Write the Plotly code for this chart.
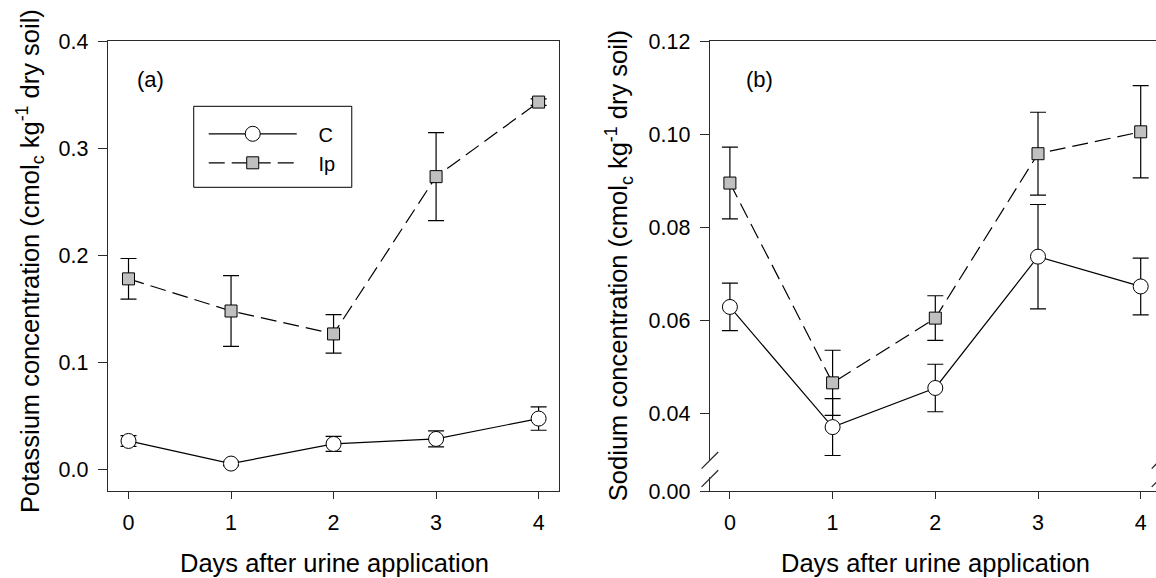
import plotly.graph_objects as go
from plotly.subplots import make_subplots

# ---------------- data ----------------
days = [0, 1, 2, 3, 4]
day_ticks = [0, 1, 2, 3, 4]

k_c = [0.0267, 0.0056, 0.0239, 0.0286, 0.0476]
k_c_err = [0.005, 0.002, 0.007, 0.0075, 0.0109]
k_ip = [0.178, 0.148, 0.1266, 0.2734, 0.343]
k_ip_err = [0.019, 0.033, 0.018, 0.041, 0.003]

na_c = [0.0629, 0.0371, 0.0455, 0.0737, 0.0673]
na_c_err = [0.0051, 0.0061, 0.0051, 0.0112, 0.0061]
na_ip = [0.0895, 0.0466, 0.0605, 0.0958, 0.1005]
na_ip_err = [0.0077, 0.0070, 0.0048, 0.0089, 0.0099]

k_ticks = [0.0, 0.1, 0.2, 0.3, 0.4]
k_ticktext = ["0.0", "0.1", "0.2", "0.3", "0.4"]
na_break = 0.02338          # axis position that carries the "0.00" label (broken axis)
na_ticks = [na_break, 0.04, 0.06, 0.08, 0.10, 0.12]
na_ticktext = ["0.00", "0.04", "0.06", "0.08", "0.10", "0.12"]

series_names = ["C", "Ip"]

# ---------------- style ----------------
FONT = "Liberation Sans, Arial, sans-serif"
AX = "#2a2a2a"
GRAY = "#c0c0c0"
W, H = 1156, 578
ML, MR, MT, MB = 108.3, 0, 40.7, 87.3
PW = W - ML - MR
PH = H - MT - MB
NB = "\u00a0"

def px_x(p):
    return (p - ML) / PW

def px_y(p):
    return (H - MB - p) / PH

fig = make_subplots(rows=1, cols=2, horizontal_spacing=0.0)

def add_series(row, col, yc, yce, yi, yie, show):
    fig.add_trace(go.Scatter(
        x=days, y=yi, name=NB * 3 + series_names[1] + NB * 3, legendgroup="ip", showlegend=show,
        mode="lines+markers",
        line=dict(color="black", width=1.2, dash="16px,7px"),
        marker=dict(symbol="square", size=12, color=GRAY, line=dict(color="black", width=1)),
        error_y=dict(type="data", array=yie, visible=True, color="black", thickness=1.2, width=8),
    ), row=row, col=col)
    fig.add_trace(go.Scatter(
        x=days, y=yc, name=NB * 3 + series_names[0] + NB * 3, legendgroup="c", showlegend=show,
        mode="lines+markers",
        line=dict(color="black", width=1.2),
        marker=dict(symbol="circle", size=15, color="white", line=dict(color="black", width=1)),
        error_y=dict(type="data", array=yce, visible=True, color="black", thickness=1.2, width=8),
    ), row=row, col=col)

add_series(1, 1, k_c, k_c_err, k_ip, k_ip_err, True)
add_series(1, 2, na_c, na_c_err, na_ip, na_ip_err, False)

left_dom = [0, px_x(559.3)]
right_dom = [px_x(710), 1]

axis_common = dict(showgrid=False, zeroline=False, showline=True, linecolor=AX, linewidth=1.4,
                   ticks="outside", tickcolor=AX, tickwidth=1.2, ticklabelstandoff=5,
                   tickfont=dict(family=FONT, size=21.5, color="black"))

fig.update_xaxes(**axis_common, ticklen=7, tickvals=day_ticks, mirror=True)
fig.update_yaxes(**axis_common, ticklen=9)

fig.update_layout(
    xaxis=dict(domain=left_dom, range=[-0.2, 4.2]),
    xaxis2=dict(domain=right_dom, range=[-0.195, 4.149]),
    yaxis=dict(range=[-0.02, 0.4], tickvals=k_ticks, ticktext=k_ticktext, mirror=True),
    yaxis2=dict(range=[na_break, 0.12], tickvals=na_ticks, ticktext=na_ticktext, mirror=False),
)

# ---------- legend (frame drawn as a shape, entries by plotly legend) ----------
fig.update_layout(
    showlegend=True,
    legend=dict(
        x=px_x(204), y=px_y(114), xanchor="left", yanchor="top",
        bgcolor="rgba(0,0,0,0)", borderwidth=0,
        font=dict(family=FONT, size=20, color="black"),
        itemwidth=88, tracegroupgap=0, traceorder="reversed",
    ),
)

# ---------- annotations (titles, panel labels) ----------
ann = []
title_font = dict(family=FONT, size=25.5, color="black")
ann.append(dict(text="Days after urine application", x=px_x(335), y=px_y(563), xref="paper", yref="paper",
                showarrow=False, font=title_font, xanchor="center", yanchor="middle"))
ann.append(dict(text="Days after urine application", x=px_x(936), y=px_y(563), xref="paper", yref="paper",
                showarrow=False, font=title_font, xanchor="center", yanchor="middle"))
ann.append(dict(text="Potassium concentration (cmol<sub>c</sub> kg<sup>-1</sup> dry soil)", x=px_x(31), y=px_y(261),
                xref="paper", yref="paper", textangle=-90, showarrow=False, font=title_font,
                xanchor="center", yanchor="middle"))
ann.append(dict(text="Sodium concentration (cmol<sub>c</sub> kg<sup>-1</sup> dry soil)", x=px_x(619), y=px_y(265),
                xref="paper", yref="paper", textangle=-90, showarrow=False, font=title_font,
                xanchor="center", yanchor="middle"))
ann.append(dict(text="(a)", x=px_x(151), y=px_y(79), xref="paper", yref="paper", showarrow=False,
                font=dict(family=FONT, size=22, color="black"), xanchor="center", yanchor="middle"))
ann.append(dict(text="(b)", x=px_x(760), y=px_y(79), xref="paper", yref="paper", showarrow=False,
                font=dict(family=FONT, size=22, color="black"), xanchor="center", yanchor="middle"))
fig.update_layout(annotations=ann)

shapes = []
# legend frame
shapes.append(dict(type="rect", xref="paper", yref="paper", x0=px_x(194), x1=px_x(352),
                   y0=px_y(187), y1=px_y(106), fillcolor="white", line=dict(color="black", width=1),
                   layer="above"))

# ---------- axis-break marks on the sodium axis ----------
brk_hi = 0.12 - (460.0 - MT) / 4657.5
brk_lo = 0.12 - (478.3 - MT) / 4657.5
dxp = 8.3 / PW
dyv = 8.3 / 4657.5
for xp in [px_x(710), px_x(1160)]:
    shapes.append(dict(type="rect", xref="paper", yref="y2", x0=xp - 3 / PW, x1=xp + 3 / PW,
                       y0=brk_lo + 0.0003, y1=brk_hi, fillcolor="white", line=dict(width=0), layer="above"))
    for yc in [brk_hi, brk_lo]:
        shapes.append(dict(type="line", xref="paper", yref="y2", x0=xp - dxp, x1=xp + dxp,
                           y0=yc - dyv, y1=yc + dyv, line=dict(color=AX, width=1.3), layer="above"))
fig.update_layout(shapes=shapes)

fig.update_layout(
    width=W, height=H, autosize=False,
    margin=dict(l=ML, r=MR, t=MT, b=MB, pad=0),
    paper_bgcolor="white", plot_bgcolor="white",
    font=dict(family=FONT, color="black"),
)

fig.write_html("out.html", config={"displayModeBar": False})
